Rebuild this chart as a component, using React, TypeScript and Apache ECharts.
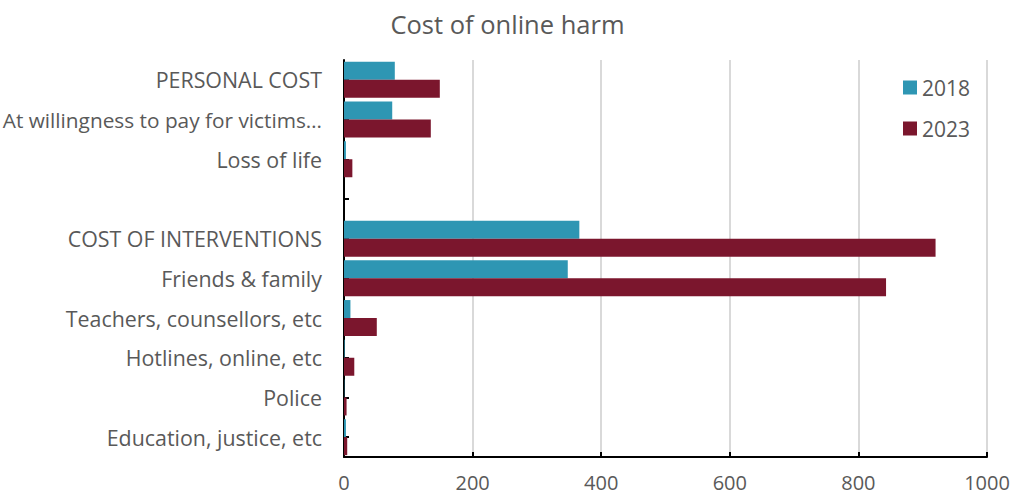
import React, { useEffect, useRef } from "react";
import * as echarts from "echarts";

const categories = [
  "PERSONAL COST",
  "At willingness to pay for victims…",
  "Loss of life",
  "",
  "COST OF INTERVENTIONS",
  "Friends & family",
  "Teachers, counsellors, etc",
  "Hotlines, online, etc",
  "Police",
  "Education, justice, etc",
];
const values2018 = [79, 75, 3, null, 366, 348, 10, 1, 0.5, 3];
const values2023 = [149, 135, 13, null, 920, 843, 51, 16, 4, 5];
const xTicks = [0, 200, 400, 600, 800, 1000];

const FONT = "'Open Sans', sans-serif";

export default function App() {
  const ref = useRef<HTMLDivElement>(null);
  useEffect(() => {
    if (!ref.current) return;
    const chart = echarts.init(ref.current, null, { renderer: "svg" });
    const yData = categories.map((c, i) =>
      i === 1 ? { value: c, textStyle: { fontSize: 20.8 } } : c
    );
    chart.setOption({
      animation: false,
      textStyle: { fontFamily: FONT },
      title: {
        text: "Cost of online harm",
        left: "center",
        top: 6,
        textStyle: { fontFamily: FONT, fontSize: 25.5, fontWeight: "normal", color: "#595959" },
      },
      legend: {
        orient: "vertical",
        left: 898,
        top: 72,
        itemWidth: 14,
        itemHeight: 14,
        itemGap: 20,
        icon: "rect",
        textStyle: { fontFamily: FONT, fontSize: 21, color: "#595959" },
        data: ["2018", "2023"],
      },
      grid: { left: 344, right: 28, top: 60, bottom: 40, containLabel: false, outerBoundsMode: "none" },
      xAxis: {
        type: "value",
        min: xTicks[0],
        max: xTicks[xTicks.length - 1],
        interval: 200,
        axisLine: { show: true, lineStyle: { color: "#000", width: 2 } },
        axisTick: { show: true, inside: true, length: 5, lineStyle: { color: "#000", width: 2 } },
        axisLabel: {
          fontFamily: FONT,
          fontSize: 20,
          color: "#595959",
          margin: 15,
          formatter: (v: number) => String(v),
        },
        splitLine: { show: true, lineStyle: { color: "#d9d9d9", width: 2 } },
      },
      yAxis: {
        type: "category",
        inverse: true,
        data: yData,
        axisLine: { show: true, lineStyle: { color: "#000", width: 2 } },
        axisTick: { show: true, alignWithLabel: true, inside: true, length: 5, lineStyle: { color: "#000", width: 2 } },
        axisLabel: { fontFamily: FONT, fontSize: 21.4, color: "#595959", margin: 22 },
      },
      series: [
        {
          name: "2018",
          type: "bar",
          data: values2018,
          itemStyle: { color: "#2E96B3" },
          barWidth: 18,
          barGap: "0%",
        },
        {
          name: "2023",
          type: "bar",
          data: values2023,
          itemStyle: { color: "#7B162D" },
          barWidth: 18,
          barGap: "0%",
        },
      ],
    });
    return () => chart.dispose();
  }, []);
  return <div ref={ref} style={{ width: 1015, height: 497, position: "absolute", left: 0, top: 0 }} />;
}
